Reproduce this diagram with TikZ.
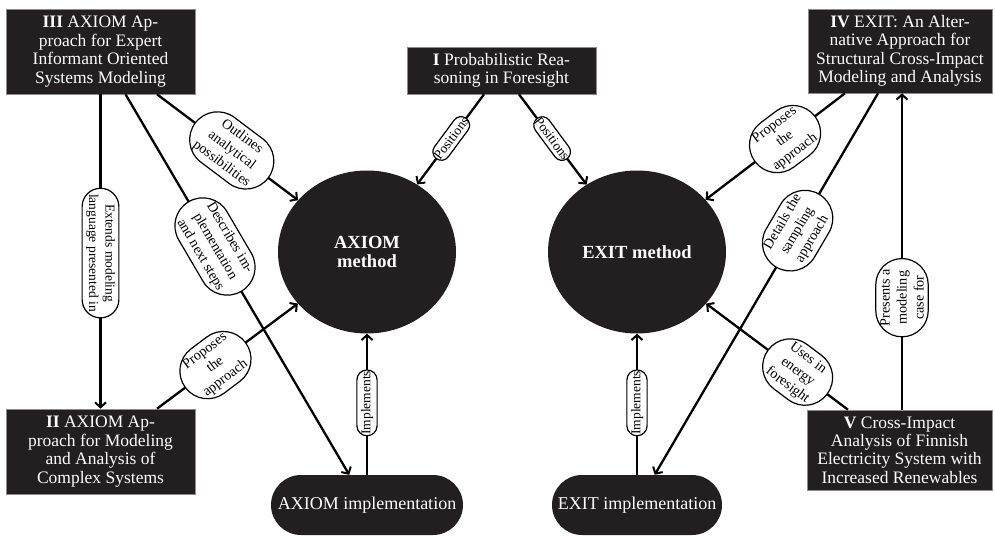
\documentclass[tikz,border=0pt]{standalone}
\usepackage{fontspec}
\setmainfont{Liberation Serif}
\usetikzlibrary{shapes.geometric,shapes.misc,arrows.meta}
\definecolor{ink}{RGB}{35,31,32}
\begin{document}
\begin{tikzpicture}[x=1pt,y=-1pt,
  paper/.style={rectangle, fill=ink, draw=black!45, line width=0.6pt, text=white,
    align=center, inner sep=0pt, font=\fontsize{17.5}{18.4}\selectfont},
  method/.style={ellipse, fill=ink, draw=none, text=white, align=center,
    minimum width=178pt, minimum height=163pt, inner sep=0pt,
    font=\fontsize{18.5}{19.5}\selectfont\bfseries},
  impl/.style={rounded rectangle, fill=ink, draw=none, text=white, inner sep=0pt,
    minimum height=60pt, font=\fontsize{18}{20}\selectfont},
  link/.style={line width=2.3pt, -{Straight Barb[length=5pt,width=11pt,line width=2pt]}},
  pill/.style={rounded rectangle, draw, fill=white, line width=1.2pt, align=center,
    inner xsep=-1pt, inner ysep=4pt, font=\fontsize{13.5}{15.5}\selectfont},
  bigpill/.style={pill, inner ysep=4.5pt, font=\fontsize{14.2}{17}\selectfont}]
\useasboundingbox (0,0) rectangle (995,535);

% publications
\node[paper, minimum width=189pt, minimum height=85pt] (III) at (100.5,51.5)
  {\textbf{III} AXIOM Ap-\\proach for Expert\\Informant Oriented\\Systems Modeling};
\node[paper, minimum width=189pt, minimum height=47pt] (I) at (501.5,70.5)
  {\textbf{I} Probabilistic Rea-\\soning in Foresight};
\node[paper, minimum width=184pt, minimum height=84pt] (IV) at (900,51)
  {\textbf{IV} EXIT: An Alter-\\native Approach for\\Structural Cross-Impact\\Modeling and Analysis};
\node[paper, minimum width=189pt, minimum height=85pt] (II) at (100.5,451.5)
  {\textbf{II} AXIOM Ap-\\proach for Modeling\\and Analysis of\\Complex Systems};
\node[paper, minimum width=185pt, minimum height=80pt] (V) at (899.5,450)
  {\textbf{V} Cross-Impact\\Analysis of Finnish\\Electricity System with\\Increased Renewables};

% methods and their implementations
\node[method] (AX) at (367,252) {AXIOM\\method};
\node[method] (EX) at (637,252) {EXIT method};
\node[impl, minimum width=192pt] (AXi) at (367,505) {AXIOM implementation};
\node[impl, minimum width=170pt] (EXi) at (637,505) {EXIT implementation};

% relations
\draw[link] (III.south) -- node[pill, pos=.505, rotate=-90, font=\fontsize{13.5}{16.5}\selectfont] (lExt)
  {Extends modeling\\language presented in} (II.north);
\draw[link] ([xshift=25pt]III.south) -- node[bigpill, pos=.40, rotate=-59.6] (lDesc)
  {Describes im-\\plementation\\and next steps} (AXi);
\draw[link] ([xshift=56.5pt]III.south) -- node[bigpill, pos=.53, rotate=-37] (lOut)
  {Outlines\\analytical\\possibilities} (AX);
\draw[link] ([xshift=-17.5pt]I.south) -- node[pill, pos=.49, rotate=53.5] (lPosA)
  {Positions} (AX);
\draw[link] ([xshift=17.5pt]I.south) -- node[pill, pos=.49, rotate=-53.5] (lPosE)
  {Positions} (EX);
\draw[link] ([xshift=-55pt]IV.south) -- node[bigpill, pos=.43, rotate=37] (lPropE)
  {Proposes\\the\\approach} (EX);
\draw[link] ([xshift=-22pt]IV.south) -- node[bigpill, pos=.36, rotate=59.6] (lDet)
  {Details the\\sampling\\approach} (EXi);
\draw[link] ([xshift=2.5pt]V.north) -- node[bigpill, pos=.354, rotate=90] (lPres)
  {Presents a\\modeling\\case for} ([xshift=2pt]IV.south);
\draw[link] ([xshift=-51.5pt]V.north) -- node[bigpill, pos=.355, rotate=-37] (lUses)
  {Uses in\\energy\\foresight} (EX);
\draw[link] ([xshift=56.5pt]II.north) -- node[bigpill, pos=.415, rotate=37] (lPropA)
  {Proposes\\the\\approach} (AX);
\draw[link] (AXi.north) -- node[pill, pos=.51, rotate=90] (lImpA) {Implements} (AX.south);
\draw[link] (EXi.north) -- node[pill, pos=.51, rotate=90] (lImpE) {Implements} (EX.south);
\end{tikzpicture}
\end{document}
